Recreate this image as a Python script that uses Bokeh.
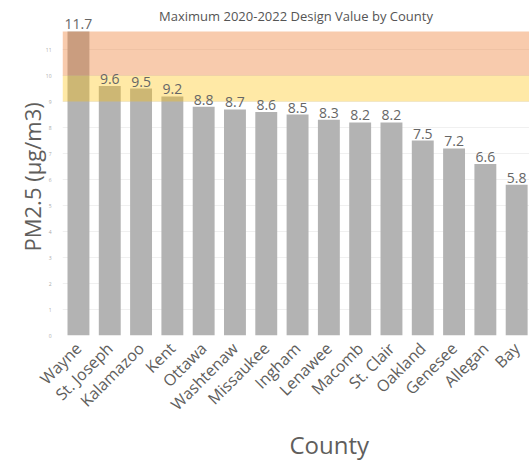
import math
from bokeh.plotting import figure
from bokeh.models import (ColumnDataSource, LabelSet, Label, BoxAnnotation, Range1d,
                          FixedTicker, Title)
from bokeh.core.properties import value
from bokeh.embed import file_html
from bokeh.resources import INLINE

counties = ["Wayne", "St. Joseph", "Kalamazoo", "Kent", "Ottawa", "Washtenaw",
            "Missaukee", "Ingham", "Lenawee", "Macomb", "St. Clair", "Oakland",
            "Genesee", "Allegan", "Bay"]
values = [11.7, 9.6, 9.5, 9.2, 8.8, 8.7, 8.6, 8.5, 8.3, 8.2, 8.2, 7.5, 7.2, 6.6, 5.8]
y_ticks = list(range(0, 12))
band_yellow = (9, 10)
band_orange = (10, 11.7)
title_text = "Maximum 2020-2022 Design Value by County"

FONT = "Open Sans"
TXT = "#605E5C"

idx = list(range(len(counties)))
src = ColumnDataSource(dict(x=idx, top=values,
                            label=[f"{v:.1f}" for v in values]))

X0, X1 = -0.51, 14.41
p = figure(width=529, height=461, output_backend="svg", toolbar_location=None,
           x_range=Range1d(X0, X1), y_range=Range1d(0, 12.89))
p.min_border_left = 62
p.min_border_right = 0
p.min_border_top = 0
p.min_border_bottom = 126
p.outline_line_color = None
p.background_fill_color = "white"
p.border_fill_color = "white"

p.vbar(x="x", top="top", width=0.7, bottom=0, source=src,
       fill_color="#B3B3B3", line_color=None)

p.add_layout(BoxAnnotation(bottom=band_yellow[0], top=band_yellow[1],
                           fill_color="#FFC000", fill_alpha=0.35, line_color=None))
p.add_layout(BoxAnnotation(bottom=band_orange[0], top=band_orange[1],
                           fill_color="#ED7D31", fill_alpha=0.4, line_color=None))

labels = LabelSet(x="x", y="top", text="label", source=src, text_align="center",
                  text_baseline="bottom", y_offset=2, text_font=value(FONT),
                  text_font_size=value("14px"), text_color=value("#666666"))
p.add_layout(labels)

# chart title, drawn inside the top of the frame
p.add_layout(Label(x=(X0 + X1) / 2, y=12.28, text=title_text, text_align="center",
                   text_baseline="middle", text_font=FONT, text_font_size="13px",
                   text_color="#555555"))

# x axis
p.xaxis.ticker = FixedTicker(ticks=idx)
p.xaxis.major_label_overrides = {i: c for i, c in zip(idx, counties)}
p.xaxis.major_label_orientation = math.pi / 4
p.xaxis.major_label_text_font = FONT
p.xaxis.major_label_text_font_size = "16px"
p.xaxis.major_label_text_color = TXT
p.xaxis.axis_line_color = None
p.xaxis.major_tick_line_color = None
p.xaxis.minor_tick_line_color = None
p.xaxis.major_label_standoff = 4

xtitle = Title(text="County", align="left", offset=227,
               text_font=FONT, text_font_size="24px", text_font_style="normal",
               text_color=TXT, standoff=0)
p.add_layout(xtitle, "below")

# y axis
p.yaxis.ticker = FixedTicker(ticks=y_ticks)
p.yaxis.major_label_text_font = FONT
p.yaxis.major_label_text_font_size = "5px"
p.yaxis.major_label_text_color = "#AAAAAA"
p.yaxis.axis_line_color = None
p.yaxis.major_tick_line_color = None
p.yaxis.minor_tick_line_color = None
p.yaxis.major_label_standoff = 5

ytitle = Title(text="PM2.5 (µg/m3)", align="left", offset=84,
               text_font=FONT, text_font_size="22px", text_font_style="normal",
               text_color=TXT, standoff=-9)
p.add_layout(ytitle, "left")

p.xgrid.grid_line_color = None
p.ygrid.grid_line_color = "#F0F0F0"

open("out.html", "w").write(file_html(p, INLINE))
